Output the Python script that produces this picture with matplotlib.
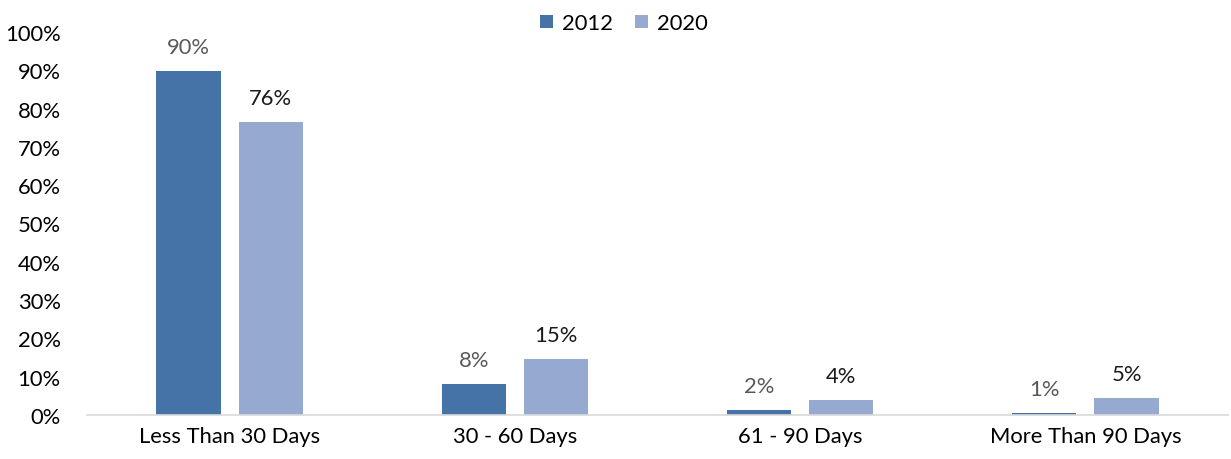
import numpy as np
import matplotlib.pyplot as plt

plt.rcParams['font.family'] = ['Lato', 'DejaVu Sans']

categories = ["Less Than 30 Days", "30 - 60 Days", "61 - 90 Days", "More Than 90 Days"]
years = ["2012", "2020"]
vals_2012 = [89.8, 8.1, 1.4, 0.6]
vals_2020 = [76.5, 14.6, 4.0, 4.5]
labels_2012 = ["90%", "8%", "2%", "1%"]
labels_2020 = ["76%", "15%", "4%", "5%"]

c2012 = "#4673a7"
c2020 = "#95a9d1"
fs = 15.8

fig = plt.figure(figsize=(12.31, 4.6), dpi=100)
ax = fig.add_axes([0.0707, 0.0957, 0.9269, 0.8326])

x = np.arange(len(categories))
w = 0.225
off = 0.144
b1 = ax.bar(x - off, vals_2012, w, color=c2012, label=years[0])
b2 = ax.bar(x + off, vals_2020, w, color=c2020, label=years[1])

for rect, lab in zip(b1, labels_2012):
    ax.annotate(lab, (rect.get_x() + rect.get_width() / 2, rect.get_height()),
                xytext=(0, 10), textcoords="offset points", ha="center", va="bottom",
                fontsize=fs, color="#595959")
for rect, lab in zip(b2, labels_2020):
    ax.annotate(lab, (rect.get_x() + rect.get_width() / 2, rect.get_height()),
                xytext=(0, 10), textcoords="offset points", ha="center", va="bottom",
                fontsize=fs, color="#1a1a1a")

ax.set_xlim(-0.5, len(categories) - 0.5)
ax.set_ylim(0, 100)
ax.set_yticks(np.arange(0, 101, 10))
ax.set_yticklabels([f"{v}%" for v in range(0, 101, 10)], fontsize=fs)
ax.set_xticks(x)
ax.set_xticklabels(categories, fontsize=fs)
ax.tick_params(length=0, pad=8)
ax.tick_params(axis="y", pad=19)

for s in ["top", "right", "left"]:
    ax.spines[s].set_visible(False)
ax.spines["bottom"].set_color("#d9d9d9")
ax.spines["bottom"].set_linewidth(1.2)

fig.legend(loc="upper center", bbox_to_anchor=(0.507, 1.012), ncol=2, frameon=False,
           fontsize=fs, handlelength=0.6, handleheight=0.6, handletextpad=0.4,
           columnspacing=1.0)

fig.savefig("out.png", dpi=100)
